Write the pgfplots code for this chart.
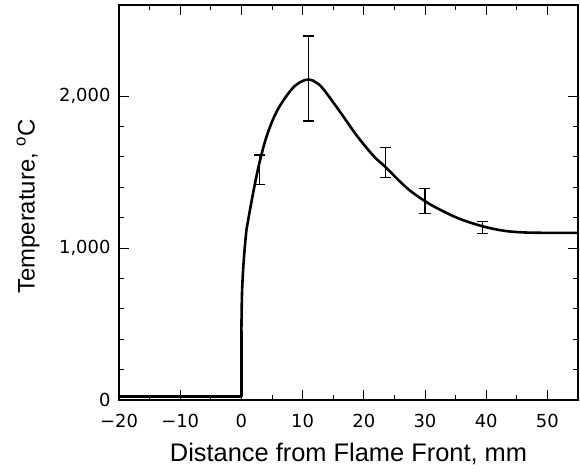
\documentclass[border=0pt]{standalone}
\usepackage{pgfplots}
\pgfplotsset{compat=1.18}
\usepackage{fontspec}
\setmainfont{Liberation Sans}
\newfontfamily\tickfont{DejaVu Sans}

\begin{document}
\begin{tikzpicture}[x=1bp,y=1bp]
\begin{axis}[
  scale only axis,
  width=459bp, height=395bp,
  xmin=-20, xmax=55,
  ymin=0, ymax=2600,
  axis line style={line width=1.6pt},
  tick style={black, line width=1pt},
  tick align=inside,
  major tick length=10bp, minor tick length=5bp,
  xtick={-20,-10,0,10,20,30,40,50},
  xticklabels={−20,−10,0,10,20,30,40,50},
  minor x tick num=1,
  ytick={0,1000,2000},
  yticklabels={0,{1,000},{2,000}},
  minor y tick num=4,
  ticklabel style={font=\tickfont\fontsize{18}{18}\selectfont},
  xticklabel style={yshift=-11bp},
  yticklabel style={xshift=-5bp},
  xlabel={Distance from Flame Front, mm},
  ylabel={Temperature, \textsuperscript{o}C},
  xlabel style={font=\fontsize{25.5}{25.5}\selectfont, at={(rel axis cs:0.5,0)}, anchor=north, yshift=-40bp},
  ylabel style={font=\fontsize{24}{24}\selectfont, at={([xshift=-91bp]rel axis cs:0,0.49)}, anchor=center},
  clip=false,
]
\addplot[black, line width=2.6pt, line cap=round, line join=round] coordinates {(-20,22) (0,22) (0,450)};
\addplot[black, line width=2.6pt, line cap=round, smooth, tension=0.6] coordinates {
  (0,450) (0.1,700) (0.35,900) (0.75,1090) (1.0,1160) (2.0,1380)
  (3.0,1570) (4.2,1745) (5.85,1905) (8.0,2035) (9.5,2090) (11.0,2110)
  (12.2,2090) (13.4,2046) (16.2,1892) (18.9,1738) (21.6,1606) (23.5,1535)
  (27.0,1397) (30.0,1309) (32.4,1254) (35.5,1195) (39,1148) (42,1120)
  (44.5,1107) (48,1101) (55,1100)
};
\addplot[draw=none, mark=none, forget plot,
  error bars/.cd, y dir=both, y explicit,
  error bar style={draw=black, line width=1.2pt},
  error mark options={draw=black, line width=1.2pt, rotate=90, mark size=5.5bp}]
  coordinates {
  (3.0,1516) +- (0,97)
  (11.0,2116) +- (0,280)
  (23.5,1562) +- (0,99)
  (30.0,1310) +- (0,83)
  (39.4,1135) +- (0,40)
};
\coordinate (ll) at (rel axis cs:0,0);
\end{axis}
\path (ll) ++(-119bp,-73bp) rectangle ++(580bp,473bp);
\end{tikzpicture}
\end{document}
